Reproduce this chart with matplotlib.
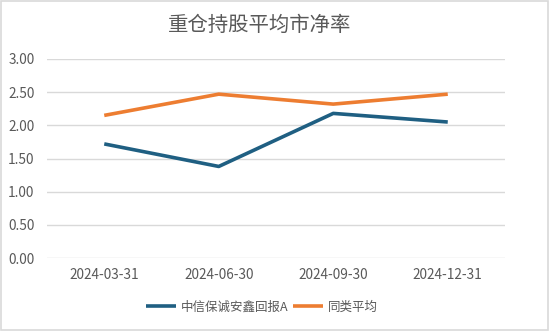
import matplotlib
matplotlib.use("Agg")
from matplotlib import pyplot as plt
from matplotlib.patches import Rectangle

plt.rcParams['font.family'] = ['Noto Sans CJK SC', 'DejaVu Sans']

# 数据
dates = ["2024-03-31", "2024-06-30", "2024-09-30", "2024-12-31"]
fund_pb = [1.72, 1.38, 2.18, 2.05]
peer_pb = [2.15, 2.47, 2.32, 2.47]
y_ticks = [0.0, 0.5, 1.0, 1.5, 2.0, 2.5, 3.0]

fig = plt.figure(figsize=(5.5, 3.31), dpi=100)
ax = fig.add_axes([47 / 550, 1 - 258 / 331, 458 / 550, 199 / 331])

x = range(len(dates))
ax.plot(x, fund_pb, color="#1f5f82", linewidth=2.6, label="中信保诚安鑫回报A", solid_capstyle="butt")
ax.plot(x, peer_pb, color="#ed7d31", linewidth=2.6, label="同类平均", solid_capstyle="butt")

ax.set_xlim(-0.5, 3.5)
ax.set_ylim(0, 3.0)
ax.set_xticks(list(x))
ax.set_xticklabels(dates)
ax.set_yticks(y_ticks)
ax.set_yticklabels(["{:.2f}".format(v) for v in y_ticks])
ax.tick_params(length=0, colors="#595959", labelsize=9.8)
ax.tick_params(axis="x", pad=7)
ax.tick_params(axis="y", pad=9)
ax.grid(axis="y", color="#d9d9d9", linewidth=1)
ax.set_axisbelow(True)
for s in ax.spines.values():
    s.set_visible(False)

fig.text(260 / 550, 1 - 25 / 331, "重仓持股平均市净率", ha="center", va="center", fontsize=14.7, color="#595959")

fig.legend(loc="center", bbox_to_anchor=(262 / 550, 1 - 307 / 331), ncol=2, frameon=False,
           fontsize=9, labelcolor="#595959", handlelength=2.4, columnspacing=0.3, handletextpad=0.4)

# 外框
fig.patches.append(Rectangle((0.002, 0.003), 0.995, 0.993, transform=fig.transFigure,
                             fill=False, edgecolor="#d9d9d9", linewidth=1.2))

fig.savefig("out.png", dpi=100)
